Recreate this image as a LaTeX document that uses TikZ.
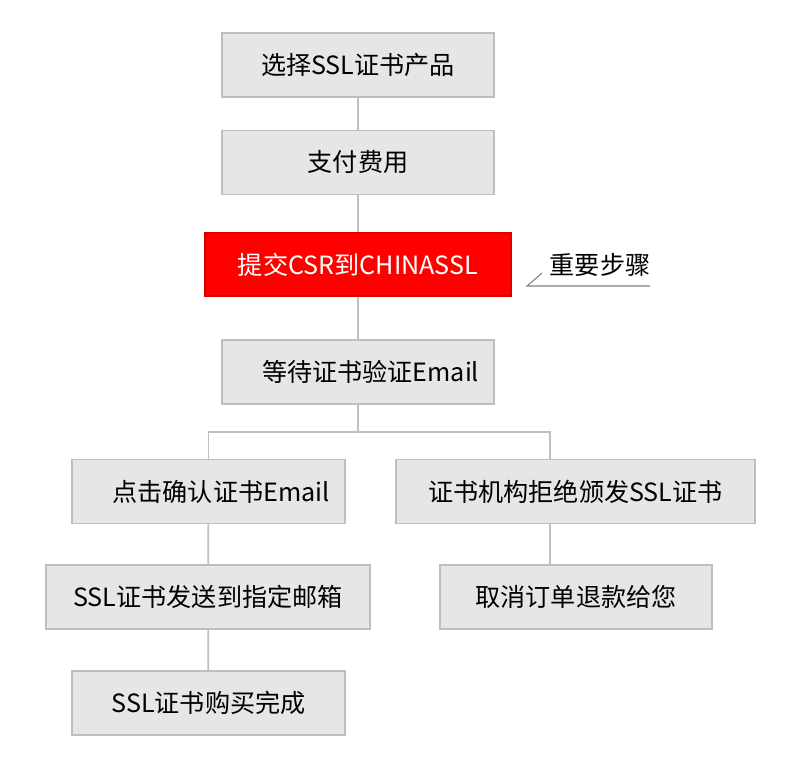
\documentclass[tikz,border=0pt]{standalone}
\usepackage{fontspec}
\setmainfont{Noto Sans CJK SC}
\usepackage{tikz}

\definecolor{boxfill}{HTML}{E6E6E6}
\definecolor{boxline}{HTML}{BEBEBE}
\definecolor{wire}{HTML}{C0C0C0}

\begin{document}
\begin{tikzpicture}[
  every node/.style={font=\fontsize{14.3}{16}\selectfont, inner sep=0pt},
  stepbox/.style={draw=boxline, fill=boxfill, line width=1pt, minimum height=1.28cm},
  keybox/.style={fill=red, draw=red!85!black, line width=0.6pt, text=white, minimum height=1.26cm},
  link/.style={draw=wire, line width=1pt}
]
\useasboundingbox (0,0) rectangle (16,15.18);

% main column
\node[stepbox, minimum width=5.44cm] (sel) at (7.16,13.88) {选择SSL证书产品};
\node[stepbox, minimum width=5.44cm] (pay) at (7.16,11.93) {支付费用};
\node[keybox, minimum width=6.12cm] (csr) at (7.16,9.89) {提交CSR到CHINASSL};
\node[stepbox, minimum width=5.44cm] (wait) at (7.16,7.74) {\hspace*{1em}等待证书验证Email};

% left branch
\node[stepbox, minimum width=5.46cm] (ok) at (4.17,5.35) {\hspace*{1em}点击确认证书Email};
\node[stepbox, minimum width=6.48cm] (send) at (4.16,3.24) {SSL证书发送到指定邮箱};
\node[stepbox, minimum width=5.46cm] (done) at (4.17,1.12) {SSL证书购买完成};

% right branch
\node[stepbox, minimum width=7.18cm] (deny) at (11.51,5.35) {证书机构拒绝颁发SSL证书};
\node[stepbox, minimum width=5.44cm] (cancel) at (11.52,3.24) {取消订单退款给您};

% note
\node (note) at (12.0,9.89) {重要步骤};
\coordinate (tip) at (10.84,9.72);
\coordinate (foot) at (10.54,9.46);
\coordinate (tail) at (13.0,9.46);
\draw[draw=gray, line width=0.6pt] (tip) -- (foot) -- (tail);

% connectors
\coordinate (split) at (7.16,6.54);
\draw[link] (sel) -- (pay);
\draw[link] (pay) -- (csr);
\draw[link] (csr) -- (wait);
\draw[link] (wait) -- (split);
\draw[link] (ok.north) |- (split) -| ([xshift=-0.51cm]deny.north);
\draw[link] (ok) -- (send);
\draw[link] (send) -- (done);
\draw[link] ([xshift=-0.51cm]deny.south) -- ([xshift=-0.52cm]cancel.north);
\end{tikzpicture}
\end{document}
